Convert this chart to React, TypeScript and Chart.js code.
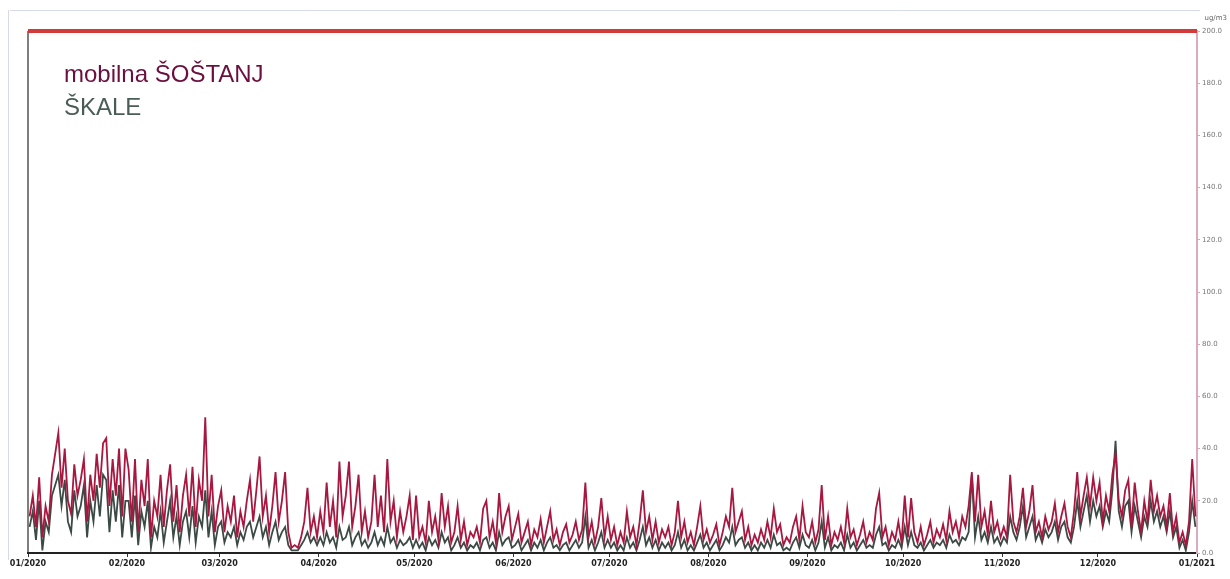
import React, { useEffect, useRef } from "react";
import { Chart, registerables } from "chart.js";

Chart.register(...registerables);

// Daily values (µg/m3), 2020 (366 days)
const sostanjValues: number[] = [
  // Jan
  14, 22, 10, 29, 6, 18, 12, 30, 38, 46, 25, 40, 20, 15, 34, 22, 28, 36, 12, 30, 20, 38, 25, 42, 44, 18, 36, 22, 40, 14, 40,
  // Feb
  32, 12, 36, 8, 28, 18, 36, 6, 20, 14, 30, 10, 24, 34, 12, 26, 8, 22, 30, 14, 33, 10, 28, 20, 52, 14, 30, 8, 18,
  // Mar
  24, 8, 18, 12, 22, 6, 16, 10, 20, 28, 12, 24, 37, 14, 22, 8, 18, 31, 12, 20, 31, 8, 2, 3, 2, 6, 12, 25, 8, 14, 6,
  // Apr
  16, 8, 27, 10, 20, 6, 35, 14, 22, 35, 10, 18, 30, 8, 16, 6, 12, 30, 10, 22, 8, 36, 12, 20, 6, 16, 8, 14, 22, 5,
  // May
  22, 6, 10, 4, 20, 8, 14, 5, 23, 10, 18, 4, 8, 18, 5, 12, 3, 8, 6, 10, 4, 17, 20, 6, 12, 4, 23, 8, 14, 18, 5,
  // Jun
  10, 15, 4, 8, 12, 3, 9, 6, 13, 4, 10, 16, 5, 9, 3, 8, 11, 4, 7, 12, 5, 9, 27, 6, 12, 4, 10, 21, 6, 14,
  // Jul
  5, 10, 3, 8, 4, 16, 6, 10, 3, 12, 24, 8, 14, 5, 12, 4, 9, 6, 10, 3, 8, 20, 6, 12, 4, 8, 3, 10, 18, 5, 9,
  // Aug
  4, 7, 11, 3, 8, 14, 10, 25, 8, 12, 16, 5, 10, 3, 7, 4, 9, 5, 12, 6, 17, 8, 11, 3, 6, 4, 10, 14, 5, 18, 8,
  // Sep
  6, 12, 4, 9, 26, 5, 14, 3, 8, 5, 10, 4, 17, 6, 9, 3, 7, 12, 4, 8, 5, 17, 23, 6, 10, 3, 8, 5, 12, 4,
  // Oct
  22, 6, 21, 8, 4, 10, 3, 7, 12, 4, 9, 6, 11, 5, 16, 8, 12, 6, 14, 10, 18, 31, 12, 30, 10, 16, 7, 20, 8, 12, 6,
  // Nov
  10, 6, 30, 12, 8, 14, 25, 10, 16, 26, 8, 12, 6, 14, 9, 12, 19, 8, 14, 19, 10, 6, 16, 31, 14, 22, 29, 18, 29, 20,
  // Dec
  27, 12, 22, 16, 30, 38, 20, 14, 24, 28, 10, 27, 16, 8, 20, 12, 28, 16, 22, 14, 18, 10, 23, 8, 14, 4, 8, 3, 12, 36, 14,
];

const skaleValues: number[] = [
  // Jan
  10, 16, 5, 20, 1, 12, 8, 22, 26, 30, 18, 28, 12, 8, 24, 14, 18, 26, 6, 20, 12, 26, 14, 30, 28, 8, 24, 12, 26, 6, 20,
  // Feb
  20, 6, 22, 3, 16, 10, 20, 2, 10, 6, 16, 4, 12, 20, 6, 14, 3, 12, 16, 6, 18, 4, 14, 10, 24, 6, 16, 3, 10,
  // Mar
  12, 4, 8, 6, 10, 3, 8, 5, 10, 12, 6, 10, 14, 6, 10, 3, 8, 12, 5, 8, 10, 3, 1, 1, 1, 3, 5, 8, 4, 6, 3,
  // Apr
  6, 3, 8, 4, 6, 2, 10, 5, 6, 10, 3, 6, 8, 3, 5, 2, 4, 8, 3, 6, 3, 10, 4, 6, 2, 5, 3, 4, 6, 2,
  // May
  5, 2, 4, 1, 6, 3, 5, 2, 8, 4, 6, 1, 3, 6, 2, 4, 1, 3, 2, 4, 1, 5, 6, 2, 4, 1, 8, 3, 5, 6, 2,
  // Jun
  3, 5, 1, 3, 5, 1, 4, 2, 5, 1, 4, 6, 2, 3, 1, 3, 4, 1, 3, 5, 2, 4, 14, 2, 5, 1, 4, 8, 2, 5,
  // Jul
  2, 4, 1, 3, 1, 6, 2, 4, 1, 5, 10, 3, 6, 2, 5, 1, 4, 2, 4, 1, 3, 8, 2, 5, 1, 3, 1, 4, 7, 2, 4,
  // Aug
  1, 3, 5, 1, 3, 6, 4, 10, 3, 5, 6, 2, 4, 1, 3, 1, 4, 2, 5, 2, 7, 3, 4, 1, 2, 1, 4, 6, 2, 7, 3,
  // Sep
  2, 5, 1, 4, 12, 2, 6, 1, 3, 2, 4, 1, 7, 2, 4, 1, 3, 5, 2, 3, 2, 7, 10, 3, 4, 1, 3, 2, 5, 2,
  // Oct
  10, 3, 8, 3, 2, 4, 1, 3, 5, 2, 4, 3, 5, 2, 7, 4, 5, 3, 6, 5, 8, 30, 6, 14, 5, 8, 4, 10, 4, 6, 3,
  // Nov
  6, 4, 14, 8, 5, 10, 18, 6, 10, 14, 5, 8, 4, 9, 6, 8, 12, 5, 10, 12, 6, 4, 10, 20, 10, 16, 22, 12, 20, 14,
  // Dec
  18, 10, 16, 12, 24, 43, 16, 10, 18, 20, 8, 18, 12, 6, 14, 10, 20, 12, 16, 10, 14, 8, 16, 6, 10, 2, 5, 1, 8, 20, 10,
];

const monthStartDays = [0, 31, 60, 91, 121, 152, 182, 213, 244, 274, 305, 335, 366];
const monthLabels = [
  "01/2020", "02/2020", "03/2020", "04/2020", "05/2020", "06/2020", "07/2020",
  "08/2020", "09/2020", "10/2020", "11/2020", "12/2020", "01/2021",
];
const limitValue = 200;
const seriesNames = ["mobilna ŠOŠTANJ", "ŠKALE"];
const unitLabel = "ug/m3";

const RED = "#a8173f";
const GREY = "#3b4a45";

const overlayPlugin = {
  id: "overlay",
  beforeDraw(chart: any) {
    const { ctx, chartArea } = chart;
    ctx.save();
    ctx.fillStyle = "#ffffff";
    ctx.fillRect(0, 0, chart.width, chart.height);
    // faint scanned frame
    ctx.strokeStyle = "#d6dbe6";
    ctx.lineWidth = 1;
    ctx.beginPath();
    ctx.moveTo(10, 10.5);
    ctx.lineTo(1200, 10.5);
    ctx.moveTo(8.5, 10);
    ctx.lineTo(8.5, 560);
    ctx.stroke();
    // left axis line
    ctx.strokeStyle = "#555";
    ctx.lineWidth = 1.5;
    ctx.beginPath();
    ctx.moveTo(chartArea.left, chartArea.top);
    ctx.lineTo(chartArea.left, chartArea.bottom);
    ctx.stroke();
    ctx.restore();
  },
  afterDraw(chart: any) {
    const { ctx } = chart;
    ctx.save();
    ctx.textBaseline = "alphabetic";
    ctx.textAlign = "left";
    ctx.font = "24px 'Liberation Sans', Arial, sans-serif";
    ctx.fillStyle = "#6b0f3e";
    ctx.fillText(seriesNames[0], 64, 82);
    ctx.fillStyle = "#4b5c57";
    ctx.fillText(seriesNames[1], 64, 115);
    ctx.font = "7px 'DejaVu Sans', sans-serif";
    ctx.fillStyle = "#666";
    ctx.textAlign = "right";
    ctx.fillText(unitLabel, 1227, 20);
    ctx.restore();
  },
};

export default function App() {
  const canvasRef = useRef<HTMLCanvasElement | null>(null);

  useEffect(() => {
    document.body.style.margin = "0";
    const canvas = canvasRef.current;
    if (!canvas) return;
    const chart = new Chart(canvas, {
      type: "line",
      data: {
        datasets: [
          {
            label: "limit",
            data: [
              { x: monthStartDays[0], y: limitValue },
              { x: monthStartDays[monthStartDays.length - 1], y: limitValue },
            ],
            borderColor: "#d23a3c",
            borderWidth: 4,
            pointRadius: 0,
            clip: false as any,
          },
          {
            label: seriesNames[0],
            data: sostanjValues.map((v, i) => ({ x: i + 0.5, y: v })),
            borderColor: RED,
            borderWidth: 1.8,
            pointRadius: 0,
            tension: 0,
          },
          {
            label: seriesNames[1],
            data: skaleValues.map((v, i) => ({ x: i + 0.5, y: v })),
            borderColor: GREY,
            borderWidth: 1.8,
            pointRadius: 0,
            tension: 0,
          },
        ],
      },
      options: {
        animation: false,
        responsive: false,
        events: [],
        layout: { padding: { left: 28, top: 31, right: 0, bottom: 0 } },
        plugins: { legend: { display: false }, tooltip: { enabled: false } },
        scales: {
          x: {
            type: "linear",
            min: monthStartDays[0],
            max: monthStartDays[monthStartDays.length - 1],
            afterBuildTicks: (scale: any) => {
              scale.ticks = monthStartDays.map((d) => ({ value: d }));
            },
            afterFit: (scale: any) => {
              scale.height = 26;
            },
            ticks: {
              autoSkip: false,
              maxRotation: 0,
              padding: 2,
              color: "#222",
              font: { family: "'DejaVu Sans', sans-serif", size: 8, weight: "bold" },
              callback: (value: any) => {
                const idx = monthStartDays.indexOf(Number(value));
                return idx >= 0 ? monthLabels[idx] : "";
              },
            },
            grid: { display: true, drawOnChartArea: false, tickLength: 4, color: "#333" },
            border: { display: true, color: "#222", width: 2 },
          },
          y: {
            position: "right",
            min: 0,
            max: limitValue,
            afterFit: (scale: any) => {
              scale.width = 33;
            },
            ticks: {
              stepSize: 20,
              padding: 2,
              color: "#777",
              font: { family: "'DejaVu Sans', sans-serif", size: 7 },
              callback: (value: any) => Number(value).toFixed(1),
            },
            grid: { display: true, drawOnChartArea: false, tickLength: 3, color: "#d9a7bb" },
            border: { display: true, color: "#dcaabd", width: 2 },
          },
        },
      },
      plugins: [overlayPlugin],
    });
    return () => chart.destroy();
  }, []);

  return (
    <div style={{ position: "absolute", left: 0, top: 0, width: 1230, height: 579 }}>
      <canvas ref={canvasRef} width={1230} height={579} style={{ display: "block" }} />
    </div>
  );
}
